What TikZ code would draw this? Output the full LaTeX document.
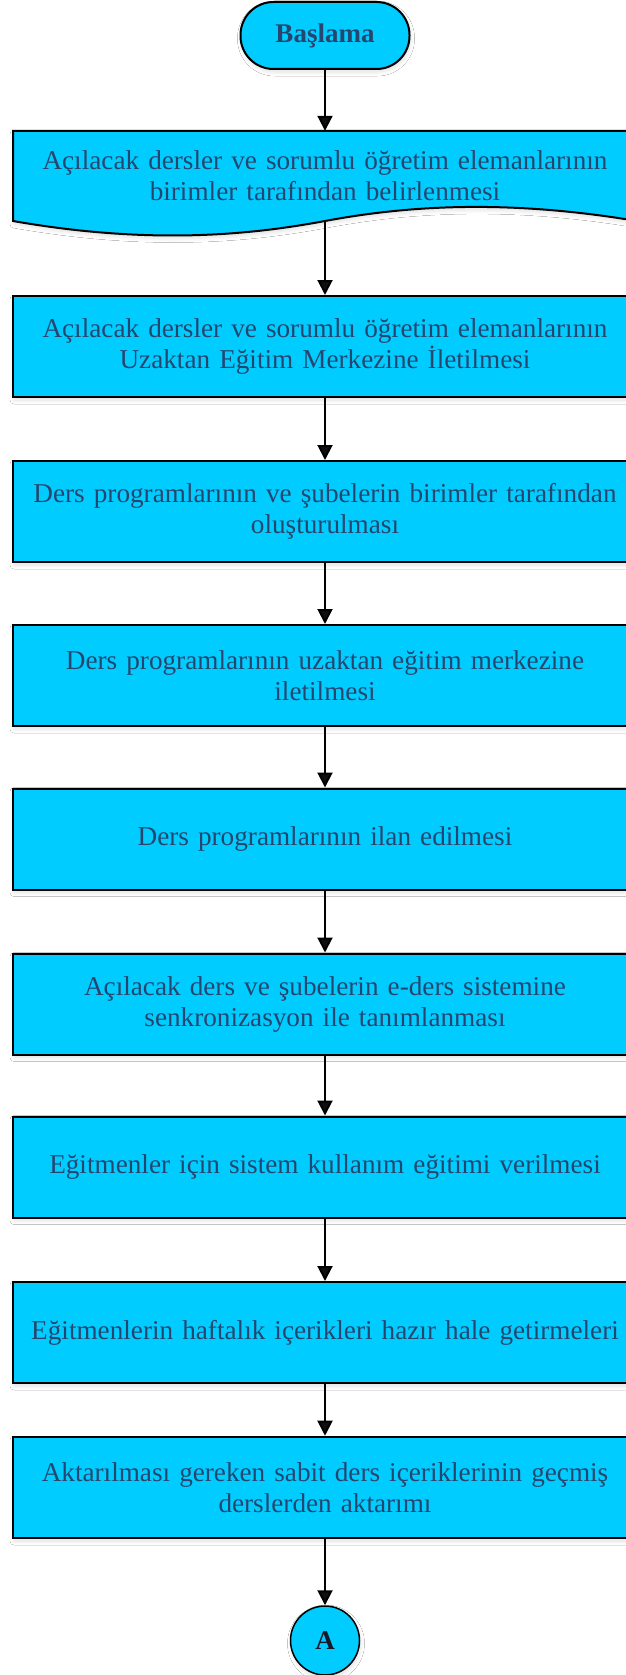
\documentclass[tikz,border=0pt]{standalone}
\usepackage{fontspec}
\setmainfont{Liberation Serif}
\usetikzlibrary{arrows.meta,shadows.blur}
\definecolor{boxfill}{RGB}{0,204,255}
\definecolor{txt}{RGB}{38,70,112}
\begin{document}
\begin{tikzpicture}[x=1pt,y=-1pt,
  shd/.style={blur shadow={shadow xshift=1pt,shadow yshift=-3pt,shadow opacity=12,shadow blur radius=4pt,shadow blur steps=6}},
  proc/.style={draw=black,line width=2pt,fill=boxfill,shd,minimum width=624pt,minimum height=101pt,inner sep=0pt,text=txt,font=\fontsize{27.2}{31}\selectfont,align=center,text width=610pt},
  term/.style={draw=black,line width=2pt,fill=boxfill,shd,rounded corners=33pt,minimum width=169pt,minimum height=67pt,inner sep=0pt,text=txt,font=\fontsize{27}{31}\selectfont\bfseries},
  conn/.style={circle,draw=black,line width=1.5pt,fill=boxfill,shd,minimum size=69pt,inner sep=0pt,text={rgb,255:red,20;green,25;blue,45},font=\fontsize{27}{31}\selectfont\bfseries},
  arr/.style={line width=2pt,-{Triangle[width=15pt,length=15pt]}}]
\useasboundingbox (0,0) rectangle (626,1675);
\fill[white] (0,0) rectangle (626,1675);

\node[term] (start) at (325,35.5) {Başlama};

\draw[line width=2pt,fill=boxfill,shd] (13,131) -- (637,131) -- (637,221)
  .. controls (500,198) and (400,207) .. (325,221)
  .. controls (250,235) and (150,245) .. (13,221) -- cycle;
\node[minimum width=624pt,minimum height=90pt,inner sep=0pt,text=txt,font=\fontsize{27.2}{31}\selectfont,align=center,text width=610pt] (doc) at (325,176)
  {Açılacak dersler ve sorumlu öğretim elemanlarının\\birimler tarafından belirlenmesi\\[10pt]};
\coordinate (docw) at (325,221);

\node[proc] (b2) at (325,346.5) {Açılacak dersler ve sorumlu öğretim elemanlarının\\Uzaktan Eğitim Merkezine İletilmesi};
\node[proc] (b3) at (325,511.5) {Ders programlarının ve şubelerin birimler tarafından\\oluşturulması};
\node[proc] (b4) at (325,675.5) {Ders programlarının uzaktan eğitim merkezine\\iletilmesi};
\node[proc] (b5) at (325,839) {Ders programlarının ilan edilmesi};
\node[proc] (b6) at (325,1004) {Açılacak ders ve şubelerin e-ders sistemine\\senkronizasyon ile tanımlanması};
\node[proc] (b7) at (325,1167) {Eğitmenler için sistem kullanım eğitimi verilmesi};
\node[proc] (b8) at (325,1332.5) {Eğitmenlerin haftalık içerikleri hazır hale getirmeleri};
\node[proc,line width=2.6pt] (b9) at (325,1487.5) {Aktarılması gereken sabit ders içeriklerinin geçmiş\\derslerden aktarımı};

\node[conn] (a) at (325,1640.5) {A};

\draw[arr] (start.south) -- (doc.north);
\draw[arr] (docw) -- (b2.north);
\draw[arr] (b2.south) -- (b3.north);
\draw[arr] (b3.south) -- (b4.north);
\draw[arr] (b4.south) -- (b5.north);
\draw[arr] (b5.south) -- (b6.north);
\draw[arr] (b6.south) -- (b7.north);
\draw[arr] (b7.south) -- (b8.north);
\draw[arr] (b8.south) -- (b9.north);
\draw[arr] (b9.south) -- (a.north);
\end{tikzpicture}
\end{document}
